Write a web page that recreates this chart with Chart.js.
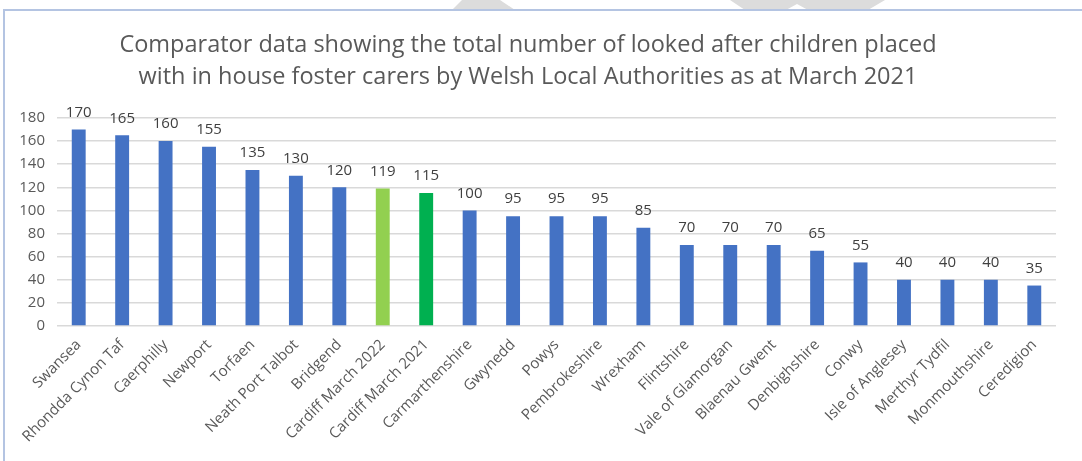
<!DOCTYPE html>
<html>
<head>
<meta charset="utf-8">
<script src="https://cdn.jsdelivr.net/npm/chart.js@4/dist/chart.umd.min.js"></script>
<style>
  html, body { margin: 0; padding: 0; background: #fff; }
  #wrap { position: relative; width: 1082px; height: 461px; overflow: hidden; }
  .shade { position: absolute; top: 0; left: 0; width: 1082px; height: 10px; background: #dcdcdc; }
  #shade1 { clip-path: polygon(462px 0, 500px 0, 515px 10px, 452px 10px); }
  #shade2 { clip-path: polygon(730px 0, 885px 0, 868px 10px, 808px 10px, 797px 4px, 786px 10px, 745px 10px); }
  #frame { position: absolute; left: 3px; top: 9px; width: 1090px; height: 470px; border: 2px solid #b4c4e2; background: #fff; }
  #chart { position: absolute; left: 0; top: 0; }
</style>
</head>
<body>
<div id="wrap">
  <div class="shade" id="shade1"></div>
  <div class="shade" id="shade2"></div>
  <div id="frame"></div>
  <canvas id="chart" width="1082" height="461"></canvas>
</div>
<script>
(function () {
  const authorities = [
    "Swansea", "Rhondda Cynon Taf", "Caerphilly", "Newport", "Torfaen",
    "Neath Port Talbot", "Bridgend", "Cardiff March 2022", "Cardiff March 2021",
    "Carmarthenshire", "Gwynedd", "Powys", "Pembrokeshire", "Wrexham",
    "Flintshire", "Vale of Glamorgan", "Blaenau Gwent", "Denbighshire",
    "Conwy", "Isle of Anglesey", "Merthyr Tydfil", "Monmouthshire", "Ceredigion"
  ];
  const placed = [
    170, 165, 160, 155, 135, 130, 120, 119, 115, 100, 95, 95, 95, 85,
    70, 70, 70, 65, 55, 40, 40, 40, 35
  ];
  const yTicks = [0, 20, 40, 60, 80, 100, 120, 140, 160, 180];

  const titleLines = [
    "Comparator data showing the total number of looked after children placed",
    "with in house foster carers by Welsh Local Authorities as at March 2021"
  ];

  const FONT = "'Open Sans', 'Noto Sans', sans-serif";
  const TEXT = "#595959";

  var barColours = authorities.map(function (name) {
    if (name === "Cardiff March 2022") return "#92d050";
    if (name === "Cardiff March 2021") return "#00b050";
    return "#4472c4";
  });

  // value labels above each bar
  var valueLabels = {
    id: "valueLabels",
    afterDatasetsDraw: function (chart) {
      var ctx = chart.ctx;
      var meta = chart.getDatasetMeta(0);
      ctx.save();
      ctx.font = "15px " + FONT;
      ctx.fillStyle = "#404040";
      ctx.textAlign = "center";
      ctx.textBaseline = "middle";
      meta.data.forEach(function (bar, i) {
        ctx.fillText(String(placed[i]), bar.x, bar.y - 17);
      });
      ctx.restore();
    }
  };

  var ctx = document.getElementById("chart").getContext("2d");
  new Chart(ctx, {
    type: "bar",
    data: {
      labels: authorities,
      datasets: [{
        data: placed,
        backgroundColor: barColours,
        categoryPercentage: 1.0,
        barPercentage: 0.32
      }]
    },
    plugins: [valueLabels],
    options: {
      responsive: false,
      animation: false,
      layout: { padding: { left: 0, right: 26, top: 0, bottom: 0 } },
      plugins: {
        legend: { display: false },
        tooltip: { enabled: false },
        title: {
          display: true,
          text: titleLines,
          color: TEXT,
          font: { family: FONT, size: 23.5, weight: "normal", lineHeight: 1.36 },
          padding: { top: 29, bottom: 25 }
        }
      },
      scales: {
        x: {
          grid: { display: false },
          border: { display: false },
          ticks: {
            color: TEXT,
            font: { family: FONT, size: 15 },
            minRotation: 45,
            maxRotation: 45,
            autoSkip: false,
            padding: 2
          },
          afterFit: function (scale) { scale.height = 135; }
        },
        y: {
          min: 0,
          max: 180,
          afterBuildTicks: function (scale) {
            scale.ticks = yTicks.map(function (v) { return { value: v }; });
          },
          grid: { color: "#d9d9d9", lineWidth: 1.5, drawTicks: false },
          border: { display: false },
          ticks: {
            color: TEXT,
            font: { family: FONT, size: 15 },
            padding: 12
          },
          afterFit: function (scale) { scale.width = 57; }
        }
      }
    }
  });
})();
</script>
</body>
</html>
